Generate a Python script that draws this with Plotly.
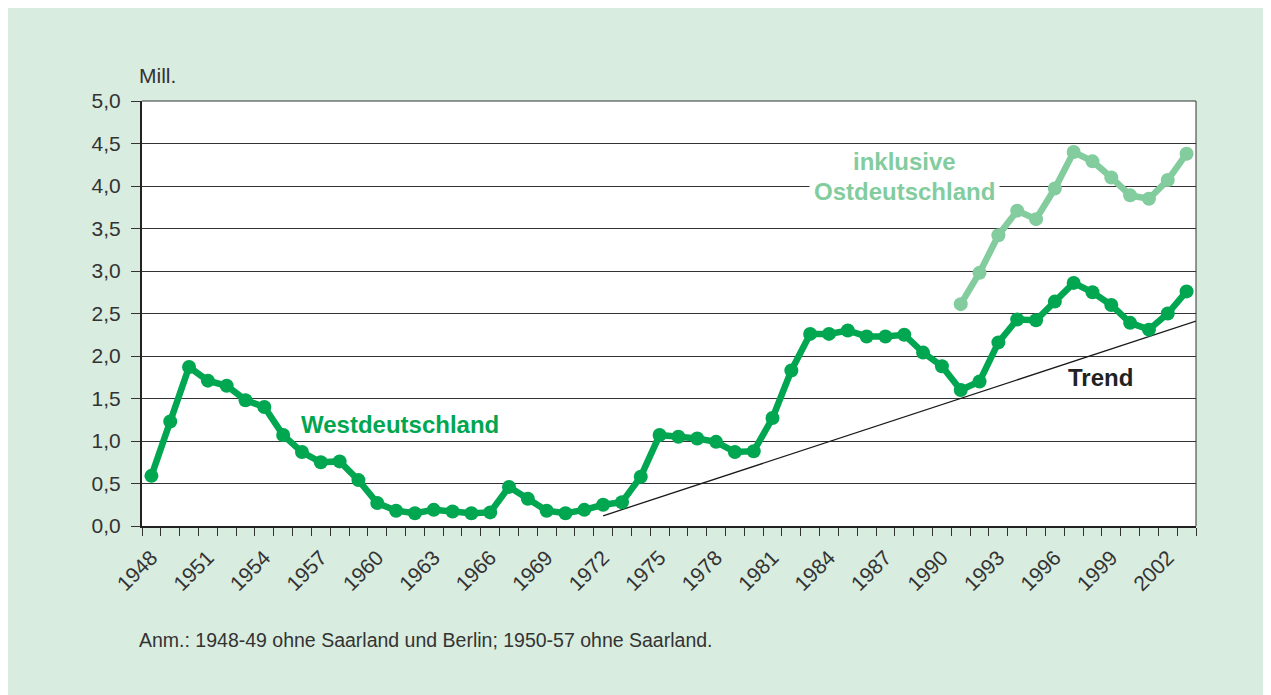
import plotly.graph_objects as go

years = list(range(1948, 2004))
west = [0.59, 1.23, 1.87, 1.71, 1.65, 1.48, 1.40, 1.07, 0.87, 0.75,
        0.76, 0.54, 0.27, 0.18, 0.15, 0.19, 0.17, 0.15, 0.16, 0.46,
        0.32, 0.18, 0.15, 0.19, 0.25, 0.28, 0.58, 1.07, 1.05, 1.03,
        0.99, 0.87, 0.88, 1.27, 1.83, 2.26, 2.26, 2.30, 2.23, 2.23,
        2.25, 2.04, 1.88, 1.60, 1.70, 2.16, 2.43, 2.42, 2.64, 2.86,
        2.75, 2.60, 2.39, 2.31, 2.50, 2.76]
east_years = list(range(1991, 2004))
incl_east = [2.61, 2.98, 3.42, 3.71, 3.61, 3.97, 4.40, 4.29, 4.10, 3.89, 3.85, 4.07, 4.38]
trend_x = [1972, 2003.5]
trend_y = [0.12, 2.41]
tick_years = list(range(1948, 2004, 3))
y_ticks = [0, 0.5, 1, 1.5, 2, 2.5, 3, 3.5, 4, 4.5, 5]

GREEN = "#00a650"
LIGHT = "#82cc9e"
BG = "#d8ecdf"
FONT = "Liberation Sans, Arial, sans-serif"

fig = go.Figure()
fig.add_trace(go.Scatter(x=trend_x, y=trend_y, mode="lines",
                         line=dict(color="#1a1a1a", width=1.3), hoverinfo="skip"))
fig.add_trace(go.Scatter(x=years, y=west, mode="lines+markers",
                         line=dict(color=GREEN, width=6.5),
                         marker=dict(color=GREEN, size=14)))
fig.add_trace(go.Scatter(x=east_years, y=incl_east, mode="lines+markers",
                         line=dict(color=LIGHT, width=6.5),
                         marker=dict(color=LIGHT, size=14)))

fig.update_layout(
    width=1263, height=687, autosize=False,
    margin=dict(l=134, r=75, t=93, b=169),
    paper_bgcolor=BG, plot_bgcolor="white",
    showlegend=False, separators=",.",
    font=dict(family=FONT, color="#333333", size=21),
    xaxis=dict(type="linear", range=[1947.5, 2003.5], tickmode="array",
               tickvals=tick_years, ticktext=[str(y) for y in tick_years],
               tickangle=-45, ticks="", showgrid=False, zeroline=False,
               showline=True, linecolor="#222222", linewidth=2,
               ticklabelstandoff=9, automargin=False,
               tickfont=dict(size=21, color="#333333"),
               minor=dict(tickmode="linear", tick0=1947.5, dtick=1,
                          ticks="outside", ticklen=8, tickcolor="#333333",
                          tickwidth=1, showgrid=False)),
    yaxis=dict(range=[0, 5], tickmode="array", tickvals=y_ticks,
               tickformat=".1f", ticks="outside", ticklen=9,
               tickcolor="#333333", tickwidth=1,
               showgrid=True, gridcolor="#333333", gridwidth=1,
               zeroline=False, showline=True, linecolor="#222222", linewidth=2,
               ticklabelstandoff=6, automargin=False,
               tickfont=dict(size=21, color="#333333")),
)

shapes = [
    dict(type="line", xref="paper", yref="paper", x0=1, x1=1, y0=0, y1=1,
         line=dict(color="#333333", width=1)),
    dict(type="line", xref="paper", yref="paper", x0=0, x1=1, y0=1, y1=1,
         line=dict(color="#333333", width=1)),
]
fig.update_layout(shapes=shapes)

fig.add_annotation(x=-0.0047, y=1.061, xref="paper", yref="paper",
                   text="Mill.", showarrow=False, xanchor="left", yanchor="middle",
                   font=dict(size=21, color="#333333", family=FONT))
fig.add_annotation(x=1961.2, y=1.20, text="<b>Westdeutschland</b>", showarrow=False,
                   xanchor="center", yanchor="middle",
                   font=dict(size=24, color=GREEN, family=FONT))
fig.add_annotation(x=1998.4, y=1.75, text="<b>Trend</b>", showarrow=False,
                   xanchor="center", yanchor="middle",
                   font=dict(size=24, color="#222222", family=FONT))
fig.add_annotation(x=1988.0, y=4.29, text="<b>inklusive</b>",
                   showarrow=False, xanchor="center", yanchor="middle",
                   font=dict(size=24, color=LIGHT, family=FONT))
fig.add_annotation(x=1988.0, y=3.94, text="<b>Ostdeutschland</b>",
                   showarrow=False, xanchor="center", yanchor="middle",
                   bgcolor="white", borderpad=4,
                   font=dict(size=24, color=LIGHT, family=FONT))
fig.add_annotation(x=-0.0047, y=-0.268, xref="paper", yref="paper",
                   text="Anm.: 1948-49 ohne Saarland und Berlin; 1950-57 ohne Saarland.",
                   showarrow=False, xanchor="left", yanchor="middle",
                   font=dict(size=19.5, color="#333333", family=FONT))

fig.write_html("out.html")
